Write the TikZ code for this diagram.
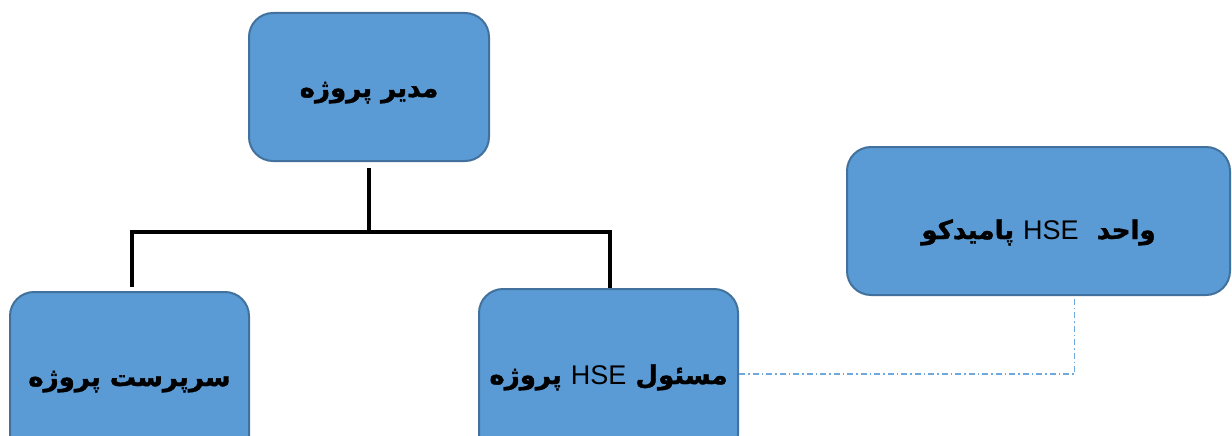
\documentclass[tikz,border=0pt]{standalone}
\usepackage{fontspec}
\setmainfont{Liberation Sans}
\newfontfamily\arabicfont[Script=Arabic, BoldFeatures={FakeBold=1.5}]{DejaVu Sans}
\TeXXeTstate=1
\usepackage{xcolor}
\definecolor{boxfill}{HTML}{5B9BD5}
\definecolor{boxline}{HTML}{41719C}
\definecolor{linkblue}{HTML}{6FA8DC}

\begin{document}
\begin{tikzpicture}[x=1pt, y=-1pt,
    orgbox/.style={rectangle, rounded corners=24pt, fill=boxfill, draw=boxline, line width=2pt, inner sep=0pt},
    orgline/.style={line width=3.5pt, black},
    linkline/.style={linkblue, line width=1.2pt, dash pattern=on 6pt off 3pt on 1.5pt off 3pt},
    fa/.style={font=\arabicfont\bfseries\fontsize{26}{30}\selectfont, text height=24pt, text depth=4pt}]
    \useasboundingbox (0,0) rectangle (1232,436);

    % Boxes
    \node[orgbox, fa, minimum width=240pt, minimum height=148pt] (boss) at (369,87) {\beginR مدیر پروژه\endR};
    \node[orgbox, fa, minimum width=239pt, minimum height=168pt] (super) at (129.5,376) {\beginR سرپرست پروژه\endR};
    \node[orgbox, fa, minimum width=259pt, minimum height=170pt] (hse) at (608.5,374)
        {\beginR مسئول \beginL{\normalfont\fontsize{27}{30}\selectfont HSE}\endL{} پروژه\endR};
    \node[orgbox, fa, text height=40pt, minimum width=383pt, minimum height=148pt] (unit) at (1038.5,221)
        {\beginR واحد \ \beginL{\normalfont\fontsize{27}{30}\selectfont HSE}\endL{} پامیدکو\endR};

    % Connectors
    \coordinate (fork) at (369,232);
    \draw[orgline] ([yshift=-6pt]boss.south) -- (fork);
    \draw[orgline] ([xshift=2.5pt, yshift=4pt]super.north) |- (fork) -| ([xshift=1.5pt]hse.north);
    \draw[linkline] (hse.east) -| ([xshift=36pt]unit.south);
\end{tikzpicture}
\end{document}
